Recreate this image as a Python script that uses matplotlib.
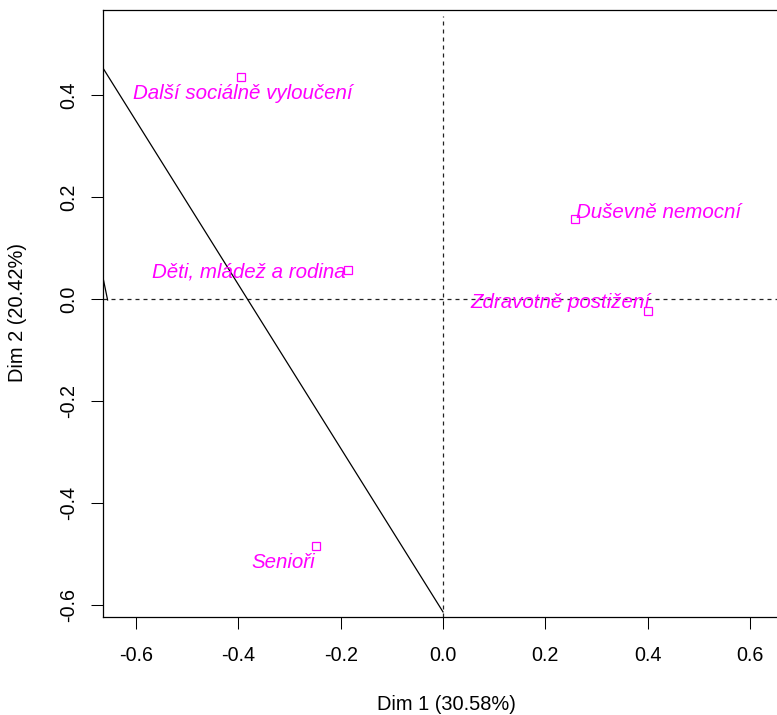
import matplotlib
matplotlib.use("Agg")
import matplotlib.pyplot as plt

plt.rcParams['font.family'] = ['Liberation Sans', 'DejaVu Sans']

# Category points (column coordinates)
categories = ["Další sociálně vyloučení", "Děti, mládež a rodina", "Duševně nemocní",
              "Zdravotně postižení", "Senioři"]
dim1 = [-0.395, -0.186, 0.258, 0.401, -0.249]
dim2 = [0.435, 0.057, 0.157, -0.024, -0.484]

# Solid reference lines (endpoints in data units)
line_main_x = [-0.665, 0.0]
line_main_y = [0.453, -0.614]
line_small_x = [-0.664, -0.656]
line_small_y = [0.037, -0.002]

xticks = [-0.6, -0.4, -0.2, 0.0, 0.2, 0.4, 0.6]
yticks = [-0.6, -0.4, -0.2, 0.0, 0.2, 0.4]
xlabel = "Dim 1 (30.58%)"
ylabel = "Dim 2 (20.42%)"

W, H = 777, 715
fig = plt.figure(figsize=(W / 100, H / 100), dpi=100)
# axes in pixel space: left 103, right 783, top 10, bottom 617
ax = fig.add_axes([103 / W, (H - 617) / H, (783 - 103) / W, (617 - 10) / H])
ax.set_xlim(-0.665, 0.665)
ax.set_ylim(-0.624, 0.567)

ax.axhline(0, color='#222222', lw=0.9, dashes=(3.2, 3.2))
ax.axvline(0, color='#222222', lw=0.9, dashes=(3.2, 3.2), ymax=0.99)
ax.plot(line_main_x, line_main_y, color='black', lw=0.9)
ax.plot(line_small_x, line_small_y, color='black', lw=0.9)

ax.plot(dim1, dim2, linestyle='none', marker='s', markersize=6,
        markerfacecolor='none', markeredgecolor='#FF00FF', markeredgewidth=0.9)

# label placement (offsets in points from each point), ha
label_offsets = [(1.5, -15.8, 'center'), (-1.5, -5.8, 'right'), (0.7, 0.7, 'left'),
                 (1.4, 2.2, 'right'), (-0.7, -15.8, 'right')]
for x, y, t, (dx, dy, ha) in zip(dim1, dim2, categories, label_offsets):
    ax.annotate(t, (x, y), xytext=(dx, dy), textcoords='offset points',
                ha=ha, va='baseline', color='#FF00FF', style='italic', fontsize=14.8)

ax.set_xticks(xticks)
ax.set_xticklabels([f"{v:.1f}" for v in xticks])
ax.set_yticks(yticks)
ax.set_yticklabels([f"{v:.1f}" for v in yticks], rotation=90, va='center')
ax.tick_params(axis='both', labelsize=14.2, length=8.6, width=0.75, color='black')
ax.tick_params(axis='x', pad=12)
ax.tick_params(axis='y', pad=9)

for s in ['left', 'bottom', 'top']:
    ax.spines[s].set_linewidth(0.9)
ax.spines['right'].set_visible(False)

fig.text(446 / W, 1 - 705 / H, xlabel, ha='center', va='center', fontsize=14.4)
fig.text(18 / W, 1 - 313 / H, ylabel, ha='center', va='center', rotation=90, fontsize=14.4)

fig.savefig("out.png", dpi=100)
